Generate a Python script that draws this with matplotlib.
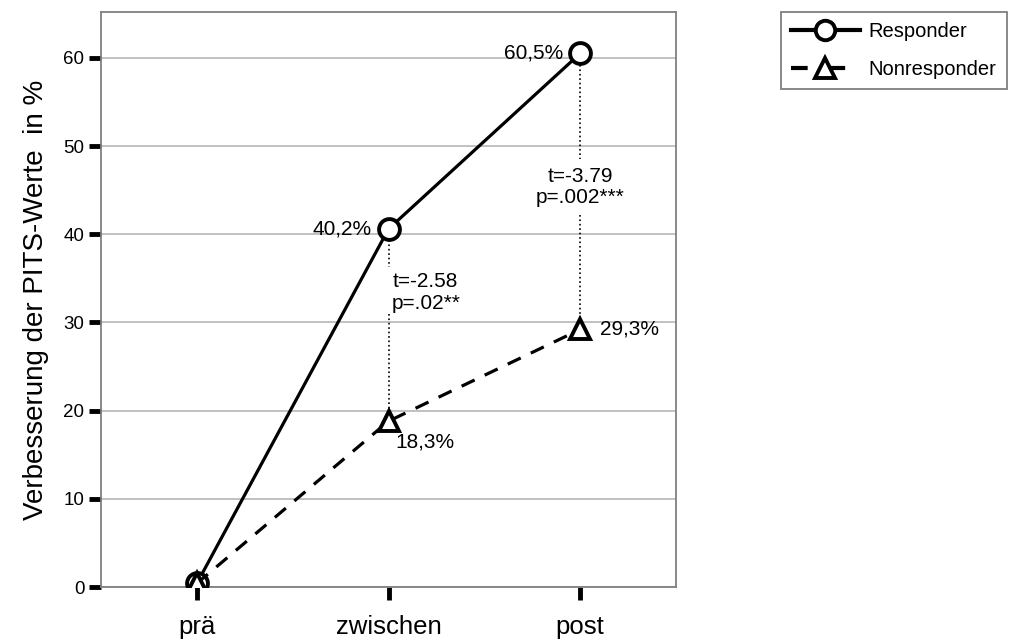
import matplotlib
matplotlib.use("Agg")
import matplotlib.pyplot as plt
from matplotlib.lines import Line2D

plt.rcParams['font.family'] = ['Liberation Sans', 'DejaVu Sans']

categories = ["prä", "zwischen", "post"]
responder = [0.4, 40.6, 60.5]
nonresponder = [0.4, 18.8, 29.2]
resp_labels = ["", "40,2%", "60,5%"]
nonresp_labels = ["", "18,3%", "29,3%"]
y_ticks = [0, 10, 20, 30, 40, 50, 60]
stats = {1: ("t=-2.58\np=.02**", 36.3, 31.0), 2: ("t=-3.79\np=.002***", 48.5, 42.2)}

fig = plt.figure(figsize=(10.09, 6.4), dpi=100)
ax = fig.add_axes([101/1009, 1-587/640, (676-101)/1009, (587-12)/640])
x = list(range(len(categories)))

ax.set_xlim(-0.5, 2.5)
ax.set_ylim(0, 65.2)
ax.set_yticks(y_ticks)
ax.set_xticks(x)
ax.set_xticklabels(categories)
ax.tick_params(axis='y', labelsize=13.5, length=9, width=3.5, color='black', pad=3)
ax.tick_params(axis='x', labelsize=18.5, length=9, width=3.5, color='black', pad=11)
for s in ax.spines.values():
    s.set_color('#808080')
    s.set_linewidth(1.3)
ax.grid(axis='y', color='#b0b0b0', linewidth=1.1)
ax.set_axisbelow(True)
ax.set_ylabel("Verbesserung der PITS-Werte  in %", fontsize=20, labelpad=10)

# dotted connectors
for i, (txt, top_end, bot_start) in stats.items():
    ax.plot([i, i], [responder[i] - 1.3, top_end], color='black', linestyle=':', linewidth=1.2, zorder=2)
    ax.plot([i, i], [bot_start, nonresponder[i] + 1.2], color='black', linestyle=':', linewidth=1.2, zorder=2)
    mid = (top_end + bot_start) / 2
    if i == 1:
        ax.annotate(txt, (i, mid - 0.3), xytext=(2, 0), textcoords='offset points', ha='left', va='center',
                    multialignment='center', fontsize=15, linespacing=1.2)
    else:
        ax.text(i, mid, txt, ha='center', va='center', fontsize=15, linespacing=1.15)

ax.plot(x, responder, color='black', linewidth=2.3, marker='o', markersize=15,
        markerfacecolor='white', markeredgewidth=2.8, markeredgecolor='black', zorder=4,
        label='Responder')
ax.plot(x, nonresponder, color='black', linewidth=2.3, linestyle=(0, (4.5, 3.5)), marker='^',
        markersize=15, markerfacecolor='white', markeredgewidth=2.8, markeredgecolor='black',
        zorder=5, label='Nonresponder')

for i in x:
    if resp_labels[i]:
        ax.annotate(resp_labels[i], (i, responder[i]), xytext=(-12, 0), textcoords='offset points',
                    ha='right', va='center', fontsize=15)
    if nonresp_labels[i]:
        if i == 1:
            ax.annotate(nonresp_labels[i], (i, nonresponder[i]), xytext=(5, -15), textcoords='offset points',
                        ha='left', va='center', fontsize=15)
        else:
            ax.annotate(nonresp_labels[i], (i, nonresponder[i]), xytext=(14, 0), textcoords='offset points',
                        ha='left', va='center', fontsize=15)

h1 = Line2D([], [], color='black', linewidth=3, marker='o', markersize=14,
            markerfacecolor='white', markeredgewidth=2.8)
h2 = Line2D([], [], color='black', linewidth=3, linestyle=(0, (4, 5)), marker='^', markersize=14,
            markerfacecolor='white', markeredgewidth=2.8)
leg = fig.legend([h1, h2], ['Responder', 'Nonresponder'], loc='upper left',
                 bbox_to_anchor=(781/1009, 1-12/640), borderaxespad=0, fontsize=14.5,
                 frameon=True, fancybox=False, handlelength=3.4, handletextpad=0.45,
                 borderpad=0.5, labelspacing=0.95)
leg.get_frame().set_edgecolor('#606060')
leg.get_frame().set_linewidth(1.3)

fig.savefig("out.png", dpi=100)
